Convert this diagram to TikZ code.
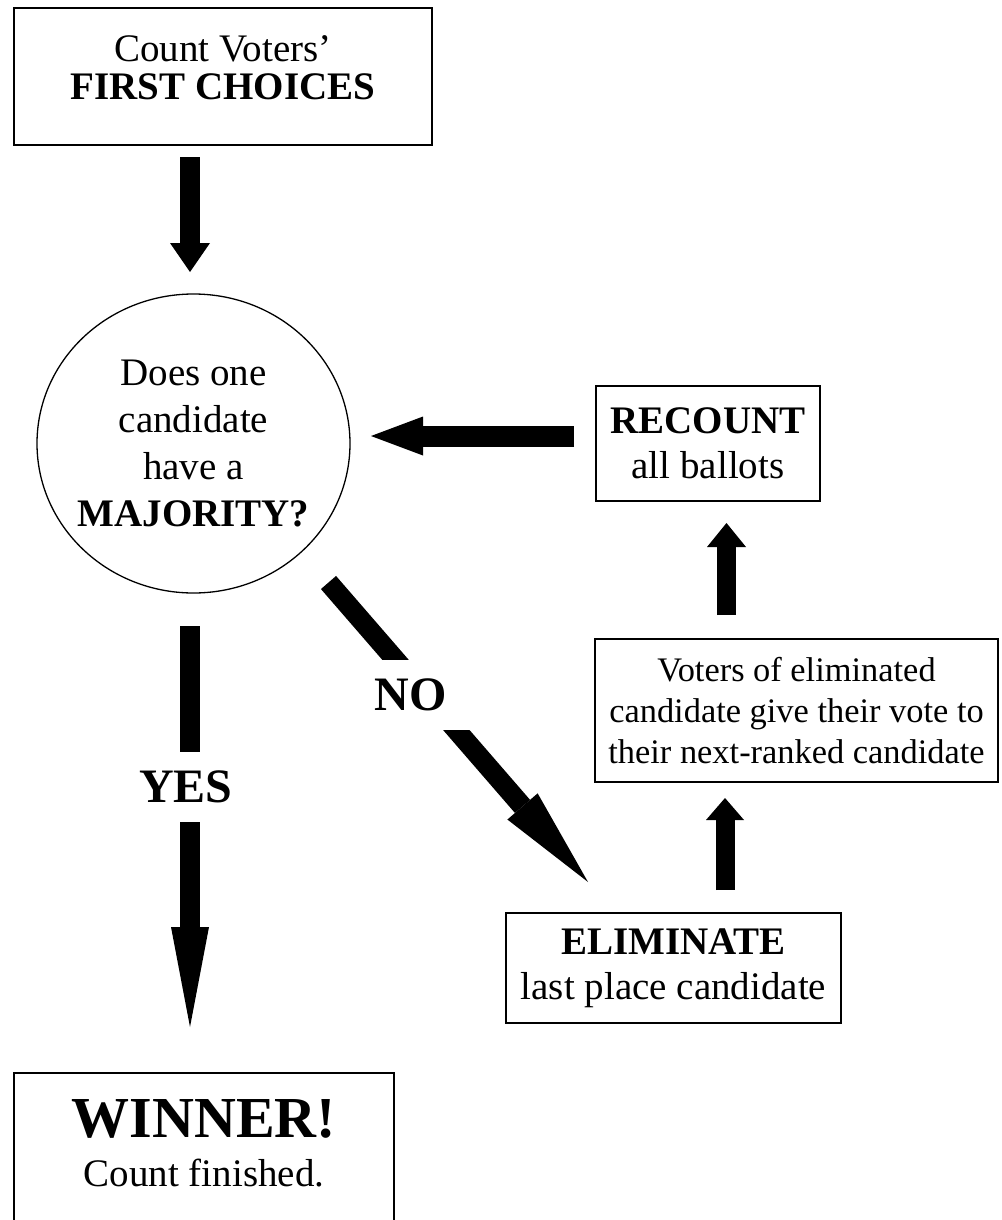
\documentclass[tikz,border=0pt]{standalone}
\usepackage{fontspec}
\setmainfont{Liberation Serif}
\usepackage{tikz}
\usetikzlibrary{arrows.meta}
\usetikzlibrary{shapes.geometric}

\begin{document}
\begin{tikzpicture}[x=1pt, y=-1pt,
  box/.style={draw=black, line width=2pt, inner sep=0pt, outer sep=0pt, align=center},
  txt/.style={inner sep=0pt, align=center},
  fat/.style={draw=black, line width=20pt},
  cut/.style={fill=white, inner sep=0pt, minimum height=70pt, font=\fontsize{48}{48}\selectfont\bfseries}]
  \fill[white] (0,0) rectangle (1001,1220);
  \useasboundingbox (0,0) rectangle (1001,1220);

  \node[box, minimum width=418pt, minimum height=137pt] (first) at (223,76.5) {};
  \node[txt, font=\fontsize{39}{38}\selectfont] (firsttxt) at (223,68) {Count Voters'\\ \textbf{FIRST CHOICES}};

  \node[ellipse, draw=black, line width=1.3pt, inner sep=-20pt, outer sep=0pt, minimum width=313pt, minimum height=299pt, align=center, font=\fontsize{39}{47}\selectfont] (q) at (193.5,443.5) {Does one\\ candidate\\ have a\\ \textbf{MAJORITY?}};

  \node[box, minimum width=224pt, minimum height=115pt, font=\fontsize{39}{45}\selectfont] (recount) at (708,443.5) {\textbf{RECOUNT}\\ all ballots};
  \node[box, minimum width=403pt, minimum height=143pt, font=\fontsize{34.4}{41}\selectfont] (voters) at (796.5,710.5) {Voters of eliminated\\ candidate give their vote to\\ their next-ranked candidate};
  \node[box, minimum width=335pt, minimum height=110pt, font=\fontsize{39}{45}\selectfont] (elim) at (673.5,968) {\textbf{ELIMINATE}\\ last place candidate};

  \node[box, anchor=north, minimum width=380pt, minimum height=200pt] (winner) at (204,1073) {};
  \node[txt, font=\fontsize{39}{49}\selectfont] (winnertxt) at (204,1143) {{\fontsize{58}{58}\selectfont\bfseries WINNER!}\\ Count finished.};

  % arrows
  \draw[fat, -{Triangle[length=29pt, width=40pt, line width=0pt]}, shorten <=12pt, shorten >=22pt]
    ([xshift=-3.5pt]q.north |- first.south) -- ([xshift=-3.5pt]q.north);
  \draw[fat, line width=21pt, -{Triangle[length=52pt, width=39pt, line width=0pt]}, shorten <=22pt, shorten >=21pt]
    ([yshift=7.5pt]recount.west) -- ([yshift=7.5pt]recount.west -| q.east);
  \draw[fat, line width=19pt, -{Triangle[length=24pt, width=39pt, line width=0pt]}, shorten <=24pt, shorten >=22pt]
    ([xshift=18.5pt]recount.south |- voters.north) -- ([xshift=18.5pt]recount.south);
  \draw[fat, line width=19pt, -{Triangle[length=22pt, width=38pt, line width=0pt]}, shorten <=23pt, shorten >=16pt]
    ([xshift=51.5pt]elim.north) -- ([xshift=51.5pt]elim.north |- voters.south);

  \draw[fat, -{Triangle[length=100pt, width=40pt, line width=0pt]}]
    ([shift={(135,139)}]q.center) -- node[cut, pos=0.3756, xshift=-15pt, minimum width=130pt] (no) {NO} ([shift={(82,-31)}]elim.north west);
  \draw[fat, -{Triangle[length=100pt, width=38pt, line width=0pt]}, shorten <=33pt, shorten >=46pt]
    ([xshift=-3.5pt]q.south) -- node[cut, pos=0.404, xshift=-4pt, minimum width=100pt] (yes) {YES} ([xshift=-3.5pt]q.south |- winner.north);
\end{tikzpicture}
\end{document}
